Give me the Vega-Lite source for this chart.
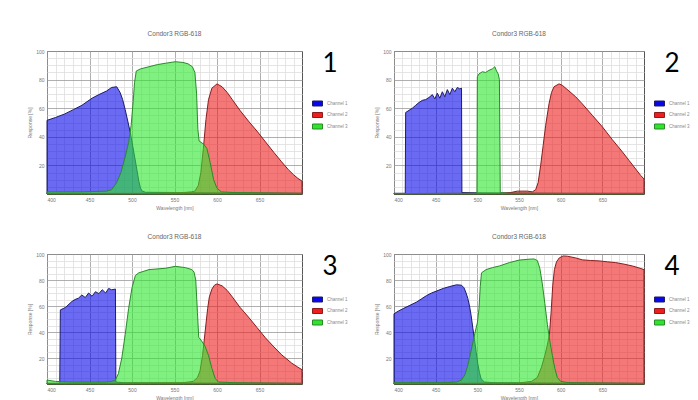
{
"$schema": "https://vega.github.io/schema/vega-lite/v6.json",
"background": "white",
"padding": {"left": 27, "top": 30, "right": 2, "bottom": 2},
"datasets": {
"p1": [
{"nm":400,"r":51.5,"ch":"Channel 1"},{"nm":410,"r":53.5,"ch":"Channel 1"},{"nm":421,"r":56,"ch":"Channel 1"},{"nm":431,"r":59,"ch":"Channel 1"},{"nm":441,"r":62,"ch":"Channel 1"},{"nm":453,"r":67,"ch":"Channel 1"},{"nm":461,"r":69.5,"ch":"Channel 1"},{"nm":470,"r":72,"ch":"Channel 1"},{"nm":476,"r":74.5,"ch":"Channel 1"},{"nm":482,"r":75,"ch":"Channel 1"},{"nm":486,"r":71,"ch":"Channel 1"},{"nm":489,"r":66,"ch":"Channel 1"},{"nm":492,"r":59,"ch":"Channel 1"},{"nm":495,"r":51,"ch":"Channel 1"},{"nm":498,"r":43,"ch":"Channel 1"},{"nm":501,"r":33,"ch":"Channel 1"},{"nm":504,"r":23,"ch":"Channel 1"},{"nm":506,"r":16,"ch":"Channel 1"},{"nm":508,"r":9,"ch":"Channel 1"},{"nm":510,"r":4,"ch":"Channel 1"},{"nm":512,"r":2,"ch":"Channel 1"},{"nm":516,"r":1.2,"ch":"Channel 1"},{"nm":560,"r":1,"ch":"Channel 1"},{"nm":620,"r":0.8,"ch":"Channel 1"},{"nm":700,"r":0.5,"ch":"Channel 1"},
{"nm":400,"r":0.5,"ch":"Channel 2"},{"nm":520,"r":0.5,"ch":"Channel 2"},{"nm":560,"r":1,"ch":"Channel 2"},{"nm":570,"r":1.5,"ch":"Channel 2"},{"nm":574,"r":2,"ch":"Channel 2"},{"nm":578,"r":6,"ch":"Channel 2"},{"nm":581,"r":15,"ch":"Channel 2"},{"nm":584,"r":32,"ch":"Channel 2"},{"nm":587,"r":52,"ch":"Channel 2"},{"nm":590,"r":66,"ch":"Channel 2"},{"nm":594,"r":74,"ch":"Channel 2"},{"nm":600,"r":77,"ch":"Channel 2"},{"nm":606,"r":75,"ch":"Channel 2"},{"nm":612,"r":71,"ch":"Channel 2"},{"nm":618,"r":66,"ch":"Channel 2"},{"nm":627,"r":58.5,"ch":"Channel 2"},{"nm":637,"r":51,"ch":"Channel 2"},{"nm":647,"r":44,"ch":"Channel 2"},{"nm":657,"r":36.5,"ch":"Channel 2"},{"nm":667,"r":29,"ch":"Channel 2"},{"nm":676,"r":22.5,"ch":"Channel 2"},{"nm":684,"r":17,"ch":"Channel 2"},{"nm":690,"r":13.5,"ch":"Channel 2"},{"nm":695,"r":11,"ch":"Channel 2"},{"nm":700,"r":9,"ch":"Channel 2"},
{"nm":400,"r":1.5,"ch":"Channel 3"},{"nm":440,"r":1.5,"ch":"Channel 3"},{"nm":470,"r":2,"ch":"Channel 3"},{"nm":476,"r":3,"ch":"Channel 3"},{"nm":482,"r":8,"ch":"Channel 3"},{"nm":487,"r":15,"ch":"Channel 3"},{"nm":492,"r":26,"ch":"Channel 3"},{"nm":496,"r":36,"ch":"Channel 3"},{"nm":499,"r":48,"ch":"Channel 3"},{"nm":501,"r":62,"ch":"Channel 3"},{"nm":503,"r":78,"ch":"Channel 3"},{"nm":505,"r":86,"ch":"Channel 3"},{"nm":510,"r":87.5,"ch":"Channel 3"},{"nm":520,"r":89,"ch":"Channel 3"},{"nm":530,"r":90.5,"ch":"Channel 3"},{"nm":540,"r":91.5,"ch":"Channel 3"},{"nm":551,"r":92.5,"ch":"Channel 3"},{"nm":560,"r":92,"ch":"Channel 3"},{"nm":566,"r":91,"ch":"Channel 3"},{"nm":571,"r":89,"ch":"Channel 3"},{"nm":574,"r":85,"ch":"Channel 3"},{"nm":576,"r":70,"ch":"Channel 3"},{"nm":577.5,"r":45,"ch":"Channel 3"},{"nm":579,"r":37,"ch":"Channel 3"},{"nm":584,"r":35,"ch":"Channel 3"},{"nm":588,"r":32,"ch":"Channel 3"},{"nm":592,"r":22,"ch":"Channel 3"},{"nm":596,"r":10,"ch":"Channel 3"},{"nm":600,"r":4,"ch":"Channel 3"},{"nm":605,"r":1.5,"ch":"Channel 3"},{"nm":620,"r":1,"ch":"Channel 3"},{"nm":700,"r":0.5,"ch":"Channel 3"}
],
"p2": [
{"nm":400,"r":0.5,"ch":"Channel 1"},{"nm":413.5,"r":0.5,"ch":"Channel 1"},{"nm":414,"r":57,"ch":"Channel 1"},{"nm":418,"r":58.5,"ch":"Channel 1"},{"nm":422,"r":60,"ch":"Channel 1"},{"nm":426,"r":62,"ch":"Channel 1"},{"nm":430,"r":64,"ch":"Channel 1"},{"nm":434,"r":65.5,"ch":"Channel 1"},{"nm":438,"r":66,"ch":"Channel 1"},{"nm":442,"r":67.5,"ch":"Channel 1"},{"nm":446,"r":69.5,"ch":"Channel 1"},{"nm":449,"r":66.5,"ch":"Channel 1"},{"nm":452,"r":70.5,"ch":"Channel 1"},{"nm":455,"r":67,"ch":"Channel 1"},{"nm":458,"r":71.5,"ch":"Channel 1"},{"nm":461,"r":68,"ch":"Channel 1"},{"nm":464,"r":73,"ch":"Channel 1"},{"nm":467,"r":69.5,"ch":"Channel 1"},{"nm":470,"r":74,"ch":"Channel 1"},{"nm":473,"r":71.5,"ch":"Channel 1"},{"nm":476,"r":74.5,"ch":"Channel 1"},{"nm":479,"r":73.5,"ch":"Channel 1"},{"nm":481,"r":74,"ch":"Channel 1"},{"nm":481.5,"r":1,"ch":"Channel 1"},{"nm":500,"r":0.8,"ch":"Channel 1"},{"nm":600,"r":0.5,"ch":"Channel 1"},{"nm":700,"r":0.5,"ch":"Channel 1"},
{"nm":400,"r":0.3,"ch":"Channel 2"},{"nm":530,"r":0.5,"ch":"Channel 2"},{"nm":540,"r":1,"ch":"Channel 2"},{"nm":548,"r":2,"ch":"Channel 2"},{"nm":560,"r":2,"ch":"Channel 2"},{"nm":566,"r":1.5,"ch":"Channel 2"},{"nm":570,"r":3,"ch":"Channel 2"},{"nm":573,"r":8,"ch":"Channel 2"},{"nm":576,"r":20,"ch":"Channel 2"},{"nm":579,"r":34,"ch":"Channel 2"},{"nm":582,"r":48,"ch":"Channel 2"},{"nm":586,"r":63,"ch":"Channel 2"},{"nm":589,"r":71,"ch":"Channel 2"},{"nm":592,"r":75,"ch":"Channel 2"},{"nm":598,"r":77,"ch":"Channel 2"},{"nm":602,"r":76,"ch":"Channel 2"},{"nm":610,"r":72,"ch":"Channel 2"},{"nm":618,"r":68,"ch":"Channel 2"},{"nm":626,"r":63,"ch":"Channel 2"},{"nm":638,"r":55,"ch":"Channel 2"},{"nm":650,"r":47,"ch":"Channel 2"},{"nm":662,"r":38,"ch":"Channel 2"},{"nm":674,"r":29.5,"ch":"Channel 2"},{"nm":682,"r":23.5,"ch":"Channel 2"},{"nm":690,"r":17.5,"ch":"Channel 2"},{"nm":696,"r":13,"ch":"Channel 2"},{"nm":700,"r":10.5,"ch":"Channel 2"},
{"nm":400,"r":0.3,"ch":"Channel 3"},{"nm":499.5,"r":0.5,"ch":"Channel 3"},{"nm":500,"r":82,"ch":"Channel 3"},{"nm":502,"r":84,"ch":"Channel 3"},{"nm":506,"r":85.5,"ch":"Channel 3"},{"nm":510,"r":85,"ch":"Channel 3"},{"nm":514,"r":86.5,"ch":"Channel 3"},{"nm":518,"r":87.5,"ch":"Channel 3"},{"nm":521,"r":89,"ch":"Channel 3"},{"nm":523,"r":86,"ch":"Channel 3"},{"nm":525,"r":84,"ch":"Channel 3"},{"nm":526.5,"r":80,"ch":"Channel 3"},{"nm":527.5,"r":0.8,"ch":"Channel 3"},{"nm":540,"r":0.5,"ch":"Channel 3"},{"nm":700,"r":0.3,"ch":"Channel 3"}
],
"p3": [
{"nm":400,"r":0.5,"ch":"Channel 1"},{"nm":415,"r":0.5,"ch":"Channel 1"},{"nm":415.7,"r":57,"ch":"Channel 1"},{"nm":419,"r":58,"ch":"Channel 1"},{"nm":422,"r":59,"ch":"Channel 1"},{"nm":426,"r":61.5,"ch":"Channel 1"},{"nm":429.4,"r":63.5,"ch":"Channel 1"},{"nm":433,"r":65,"ch":"Channel 1"},{"nm":437,"r":66,"ch":"Channel 1"},{"nm":441,"r":68.5,"ch":"Channel 1"},{"nm":445,"r":66.5,"ch":"Channel 1"},{"nm":449,"r":70,"ch":"Channel 1"},{"nm":453,"r":67.5,"ch":"Channel 1"},{"nm":457,"r":71,"ch":"Channel 1"},{"nm":461,"r":69.5,"ch":"Channel 1"},{"nm":465,"r":72.5,"ch":"Channel 1"},{"nm":469,"r":70,"ch":"Channel 1"},{"nm":472.5,"r":73.5,"ch":"Channel 1"},{"nm":476,"r":72.5,"ch":"Channel 1"},{"nm":480.5,"r":73,"ch":"Channel 1"},{"nm":481,"r":1.5,"ch":"Channel 1"},{"nm":490,"r":1,"ch":"Channel 1"},{"nm":560,"r":0.8,"ch":"Channel 1"},{"nm":700,"r":0.5,"ch":"Channel 1"},
{"nm":400,"r":0.5,"ch":"Channel 2"},{"nm":560,"r":1,"ch":"Channel 2"},{"nm":572,"r":2,"ch":"Channel 2"},{"nm":577,"r":5,"ch":"Channel 2"},{"nm":580,"r":10,"ch":"Channel 2"},{"nm":583,"r":22,"ch":"Channel 2"},{"nm":586,"r":40,"ch":"Channel 2"},{"nm":589,"r":58,"ch":"Channel 2"},{"nm":591,"r":67,"ch":"Channel 2"},{"nm":594,"r":73,"ch":"Channel 2"},{"nm":597,"r":76,"ch":"Channel 2"},{"nm":600,"r":77,"ch":"Channel 2"},{"nm":606,"r":75.5,"ch":"Channel 2"},{"nm":612,"r":72,"ch":"Channel 2"},{"nm":618,"r":67,"ch":"Channel 2"},{"nm":627,"r":59,"ch":"Channel 2"},{"nm":637,"r":51.5,"ch":"Channel 2"},{"nm":647,"r":43.5,"ch":"Channel 2"},{"nm":657,"r":35.5,"ch":"Channel 2"},{"nm":667,"r":28.5,"ch":"Channel 2"},{"nm":676,"r":22.5,"ch":"Channel 2"},{"nm":688,"r":16,"ch":"Channel 2"},{"nm":695,"r":13,"ch":"Channel 2"},{"nm":700,"r":11,"ch":"Channel 2"},
{"nm":400,"r":3,"ch":"Channel 3"},{"nm":410,"r":2,"ch":"Channel 3"},{"nm":430,"r":1.5,"ch":"Channel 3"},{"nm":470,"r":1.5,"ch":"Channel 3"},{"nm":480,"r":2.5,"ch":"Channel 3"},{"nm":484,"r":8,"ch":"Channel 3"},{"nm":488,"r":20,"ch":"Channel 3"},{"nm":492,"r":38,"ch":"Channel 3"},{"nm":496,"r":58,"ch":"Channel 3"},{"nm":500,"r":74,"ch":"Channel 3"},{"nm":504,"r":83.5,"ch":"Channel 3"},{"nm":508,"r":85.5,"ch":"Channel 3"},{"nm":520,"r":88,"ch":"Channel 3"},{"nm":539,"r":89,"ch":"Channel 3"},{"nm":551,"r":90.5,"ch":"Channel 3"},{"nm":563,"r":89.5,"ch":"Channel 3"},{"nm":570.5,"r":88,"ch":"Channel 3"},{"nm":573,"r":86,"ch":"Channel 3"},{"nm":575,"r":80,"ch":"Channel 3"},{"nm":577,"r":55,"ch":"Channel 3"},{"nm":578.5,"r":36,"ch":"Channel 3"},{"nm":582,"r":33,"ch":"Channel 3"},{"nm":586,"r":29,"ch":"Channel 3"},{"nm":590,"r":22,"ch":"Channel 3"},{"nm":594,"r":12,"ch":"Channel 3"},{"nm":598,"r":4,"ch":"Channel 3"},{"nm":602,"r":1.5,"ch":"Channel 3"},{"nm":620,"r":1,"ch":"Channel 3"},{"nm":700,"r":0.5,"ch":"Channel 3"}
],
"p4": [
{"nm":400,"r":54,"ch":"Channel 1"},{"nm":405,"r":56,"ch":"Channel 1"},{"nm":411,"r":58,"ch":"Channel 1"},{"nm":419,"r":60.5,"ch":"Channel 1"},{"nm":427,"r":63,"ch":"Channel 1"},{"nm":433,"r":65.5,"ch":"Channel 1"},{"nm":439,"r":68,"ch":"Channel 1"},{"nm":445,"r":70,"ch":"Channel 1"},{"nm":451,"r":71.5,"ch":"Channel 1"},{"nm":459,"r":73.5,"ch":"Channel 1"},{"nm":467,"r":75,"ch":"Channel 1"},{"nm":475,"r":76.3,"ch":"Channel 1"},{"nm":481,"r":76,"ch":"Channel 1"},{"nm":484,"r":74,"ch":"Channel 1"},{"nm":486.5,"r":70,"ch":"Channel 1"},{"nm":488.6,"r":65.8,"ch":"Channel 1"},{"nm":490.6,"r":60,"ch":"Channel 1"},{"nm":492.6,"r":52.6,"ch":"Channel 1"},{"nm":494.6,"r":43,"ch":"Channel 1"},{"nm":496.6,"r":34,"ch":"Channel 1"},{"nm":498.5,"r":25,"ch":"Channel 1"},{"nm":500.5,"r":15.8,"ch":"Channel 1"},{"nm":502.5,"r":9,"ch":"Channel 1"},{"nm":504.5,"r":4,"ch":"Channel 1"},{"nm":508.5,"r":1.5,"ch":"Channel 1"},{"nm":520,"r":1,"ch":"Channel 1"},{"nm":600,"r":0.8,"ch":"Channel 1"},{"nm":700,"r":0.5,"ch":"Channel 1"},
{"nm":400,"r":0.5,"ch":"Channel 2"},{"nm":550,"r":0.8,"ch":"Channel 2"},{"nm":565,"r":2,"ch":"Channel 2"},{"nm":572,"r":5,"ch":"Channel 2"},{"nm":577,"r":13,"ch":"Channel 2"},{"nm":581,"r":22,"ch":"Channel 2"},{"nm":584,"r":30,"ch":"Channel 2"},{"nm":586.5,"r":38,"ch":"Channel 2"},{"nm":588.5,"r":55,"ch":"Channel 2"},{"nm":590.5,"r":76,"ch":"Channel 2"},{"nm":592.5,"r":88,"ch":"Channel 2"},{"nm":595,"r":94,"ch":"Channel 2"},{"nm":598.3,"r":97,"ch":"Channel 2"},{"nm":603,"r":98.5,"ch":"Channel 2"},{"nm":608,"r":98.3,"ch":"Channel 2"},{"nm":618,"r":97,"ch":"Channel 2"},{"nm":626,"r":95.5,"ch":"Channel 2"},{"nm":636,"r":95,"ch":"Channel 2"},{"nm":646,"r":94.7,"ch":"Channel 2"},{"nm":656,"r":94,"ch":"Channel 2"},{"nm":666,"r":93.4,"ch":"Channel 2"},{"nm":676,"r":92.2,"ch":"Channel 2"},{"nm":686,"r":90.8,"ch":"Channel 2"},{"nm":693,"r":89.5,"ch":"Channel 2"},{"nm":700,"r":88,"ch":"Channel 2"},
{"nm":400,"r":1,"ch":"Channel 3"},{"nm":460,"r":1,"ch":"Channel 3"},{"nm":475,"r":1.5,"ch":"Channel 3"},{"nm":481,"r":3,"ch":"Channel 3"},{"nm":485,"r":7,"ch":"Channel 3"},{"nm":488,"r":13,"ch":"Channel 3"},{"nm":491,"r":21,"ch":"Channel 3"},{"nm":494,"r":30,"ch":"Channel 3"},{"nm":497,"r":39,"ch":"Channel 3"},{"nm":500,"r":47,"ch":"Channel 3"},{"nm":502,"r":58,"ch":"Channel 3"},{"nm":503.5,"r":75,"ch":"Channel 3"},{"nm":505,"r":85.5,"ch":"Channel 3"},{"nm":510.5,"r":88,"ch":"Channel 3"},{"nm":518,"r":89.5,"ch":"Channel 3"},{"nm":526.5,"r":90.8,"ch":"Channel 3"},{"nm":538.5,"r":93.4,"ch":"Channel 3"},{"nm":550,"r":95.3,"ch":"Channel 3"},{"nm":562,"r":96,"ch":"Channel 3"},{"nm":568,"r":96.2,"ch":"Channel 3"},{"nm":572,"r":95,"ch":"Channel 3"},{"nm":575,"r":89,"ch":"Channel 3"},{"nm":578,"r":77,"ch":"Channel 3"},{"nm":581,"r":62,"ch":"Channel 3"},{"nm":584,"r":46,"ch":"Channel 3"},{"nm":587,"r":33,"ch":"Channel 3"},{"nm":590,"r":22,"ch":"Channel 3"},{"nm":593,"r":12,"ch":"Channel 3"},{"nm":596,"r":5,"ch":"Channel 3"},{"nm":600,"r":2,"ch":"Channel 3"},{"nm":610,"r":1,"ch":"Channel 3"},{"nm":700,"r":0.5,"ch":"Channel 3"}
]
},
"columns": 2,
"spacing": {"row": 22, "column": 25},
"resolve": {"scale": {"fill": "independent", "stroke": "independent"}, "legend": {"fill": "independent", "stroke": "independent"}},
"concat": [
{
"title": {"text": "Condor3 RGB-618"},
"width": 255, "height": 143,
"data": {"name": "p1"},
"layer": [
{"mark": {"type": "point", "opacity": 0},
 "encoding": {
  "x": {"field": "nm", "type": "quantitative", "scale": {"domain": [400, 700], "nice": false}, "axis": {"orient": "top", "values": [410,420,430,440,460,470,480,490,510,520,530,540,560,570,580,590,610,620,630,640,660,670,680,690], "grid": true, "gridColor": "#dedede", "labels": false, "ticks": false, "domain": false, "title": null}},
  "y": {"field": "r", "type": "quantitative", "scale": {"domain": [0, 100], "nice": false}, "axis": {"orient": "right", "values": [5,10,15,25,30,35,45,50,55,65,70,75,85,90,95], "grid": true, "gridColor": "#dedede", "labels": false, "ticks": false, "domain": false, "title": null}}
 }},
{"mark": {"type": "area", "fillOpacity": 0.6, "strokeWidth": 1, "strokeOpacity": 1},
 "encoding": {
  "x": {"field": "nm", "type": "quantitative", "axis": {"orient": "bottom", "values": [400,450,500,550,600,650], "grid": true, "title": "Wavelength [nm]"}},
  "y": {"field": "r", "type": "quantitative", "stack": null, "axis": {"orient": "left", "values": [20,40,60,80,100], "grid": true, "title": "Response [%]"}},
  "fill": {"field": "ch", "type": "nominal", "scale": {"domain": ["Channel 1","Channel 2","Channel 3"], "range": ["#0707e9","#ee1e1e","#2be62b"]}, "legend": {"title": "1", "titlePadding": 21}},
  "stroke": {"field": "ch", "type": "nominal", "scale": {"domain": ["Channel 1","Channel 2","Channel 3"], "range": ["#1d1d6b","#8a1c1c","#2a8a2a"]}, "legend": {"title": "1", "titlePadding": 21}}
 }}
],
"resolve": {"axis": {"x": "independent", "y": "independent"}}
},
{
"title": {"text": "Condor3 RGB-618"},
"width": 250, "height": 143,
"data": {"name": "p2"},
"layer": [
{"mark": {"type": "point", "opacity": 0},
 "encoding": {
  "x": {"field": "nm", "type": "quantitative", "scale": {"domain": [400, 700], "nice": false}, "axis": {"orient": "top", "values": [410,420,430,440,460,470,480,490,510,520,530,540,560,570,580,590,610,620,630,640,660,670,680,690], "grid": true, "gridColor": "#dedede", "labels": false, "ticks": false, "domain": false, "title": null}},
  "y": {"field": "r", "type": "quantitative", "scale": {"domain": [0, 100], "nice": false}, "axis": {"orient": "right", "values": [5,10,15,25,30,35,45,50,55,65,70,75,85,90,95], "grid": true, "gridColor": "#dedede", "labels": false, "ticks": false, "domain": false, "title": null}}
 }},
{"mark": {"type": "area", "fillOpacity": 0.6, "strokeWidth": 1, "strokeOpacity": 1},
 "encoding": {
  "x": {"field": "nm", "type": "quantitative", "axis": {"orient": "bottom", "values": [400,450,500,550,600,650], "grid": true, "title": "Wavelength [nm]"}},
  "y": {"field": "r", "type": "quantitative", "stack": null, "axis": {"orient": "left", "values": [20,40,60,80,100], "grid": true, "title": "Response [%]"}},
  "fill": {"field": "ch", "type": "nominal", "scale": {"domain": ["Channel 1","Channel 2","Channel 3"], "range": ["#0707e9","#ee1e1e","#2be62b"]}, "legend": {"title": "2", "titlePadding": 21}},
  "stroke": {"field": "ch", "type": "nominal", "scale": {"domain": ["Channel 1","Channel 2","Channel 3"], "range": ["#1d1d6b","#8a1c1c","#2a8a2a"]}, "legend": {"title": "2", "titlePadding": 21}}
 }}
],
"resolve": {"axis": {"x": "independent", "y": "independent"}}
},
{
"title": {"text": "Condor3 RGB-618"},
"width": 255, "height": 130,
"data": {"name": "p3"},
"layer": [
{"mark": {"type": "point", "opacity": 0},
 "encoding": {
  "x": {"field": "nm", "type": "quantitative", "scale": {"domain": [400, 700], "nice": false}, "axis": {"orient": "top", "values": [410,420,430,440,460,470,480,490,510,520,530,540,560,570,580,590,610,620,630,640,660,670,680,690], "grid": true, "gridColor": "#dedede", "labels": false, "ticks": false, "domain": false, "title": null}},
  "y": {"field": "r", "type": "quantitative", "scale": {"domain": [0, 100], "nice": false}, "axis": {"orient": "right", "values": [5,10,15,25,30,35,45,50,55,65,70,75,85,90,95], "grid": true, "gridColor": "#dedede", "labels": false, "ticks": false, "domain": false, "title": null}}
 }},
{"mark": {"type": "area", "fillOpacity": 0.6, "strokeWidth": 1, "strokeOpacity": 1},
 "encoding": {
  "x": {"field": "nm", "type": "quantitative", "axis": {"orient": "bottom", "values": [400,450,500,550,600,650], "grid": true, "title": "Wavelength [nm]"}},
  "y": {"field": "r", "type": "quantitative", "stack": null, "axis": {"orient": "left", "values": [20,40,60,80,100], "grid": true, "title": "Response [%]"}},
  "fill": {"field": "ch", "type": "nominal", "scale": {"domain": ["Channel 1","Channel 2","Channel 3"], "range": ["#0707e9","#ee1e1e","#2be62b"]}, "legend": {"title": "3", "titlePadding": 14}},
  "stroke": {"field": "ch", "type": "nominal", "scale": {"domain": ["Channel 1","Channel 2","Channel 3"], "range": ["#1d1d6b","#8a1c1c","#2a8a2a"]}, "legend": {"title": "3", "titlePadding": 14}}
 }}
],
"resolve": {"axis": {"x": "independent", "y": "independent"}}
},
{
"title": {"text": "Condor3 RGB-618"},
"width": 250, "height": 130,
"data": {"name": "p4"},
"layer": [
{"mark": {"type": "point", "opacity": 0},
 "encoding": {
  "x": {"field": "nm", "type": "quantitative", "scale": {"domain": [400, 700], "nice": false}, "axis": {"orient": "top", "values": [410,420,430,440,460,470,480,490,510,520,530,540,560,570,580,590,610,620,630,640,660,670,680,690], "grid": true, "gridColor": "#dedede", "labels": false, "ticks": false, "domain": false, "title": null}},
  "y": {"field": "r", "type": "quantitative", "scale": {"domain": [0, 100], "nice": false}, "axis": {"orient": "right", "values": [5,10,15,25,30,35,45,50,55,65,70,75,85,90,95], "grid": true, "gridColor": "#dedede", "labels": false, "ticks": false, "domain": false, "title": null}}
 }},
{"mark": {"type": "area", "fillOpacity": 0.6, "strokeWidth": 1, "strokeOpacity": 1},
 "encoding": {
  "x": {"field": "nm", "type": "quantitative", "axis": {"orient": "bottom", "values": [400,450,500,550,600,650], "grid": true, "title": "Wavelength [nm]"}},
  "y": {"field": "r", "type": "quantitative", "stack": null, "axis": {"orient": "left", "values": [20,40,60,80,100], "grid": true, "title": "Response [%]"}},
  "fill": {"field": "ch", "type": "nominal", "scale": {"domain": ["Channel 1","Channel 2","Channel 3"], "range": ["#0707e9","#ee1e1e","#2be62b"]}, "legend": {"title": "4", "titlePadding": 14}},
  "stroke": {"field": "ch", "type": "nominal", "scale": {"domain": ["Channel 1","Channel 2","Channel 3"], "range": ["#1d1d6b","#8a1c1c","#2a8a2a"]}, "legend": {"title": "4", "titlePadding": 14}}
 }}
],
"resolve": {"axis": {"x": "independent", "y": "independent"}}
}
],
"config": {
 "font": "Liberation Sans",
 "view": {"stroke": "#555555", "strokeWidth": 1},
 "axis": {"labelFontSize": 5, "labelColor": "#777777", "titleFontSize": 5, "titleColor": "#777777", "titleFontWeight": "normal", "ticks": false, "domain": false, "labelPadding": 3, "titlePadding": 3, "gridColor": "#9a9a9a", "gridWidth": 0.8},
 "title": {"fontSize": 6.5, "color": "#666666", "fontWeight": "normal", "frame": "group", "anchor": "middle", "offset": 12},
 "legend": {"orient": "right", "offset": 8, "titleFontSize": 26, "titleFont": "Lato", "titleFontWeight": "normal", "titleColor": "#000000", "titleAnchor": "middle", "labelFontSize": 4.5, "labelColor": "#888888", "labelOffset": 4, "symbolType": "M-1,-0.5L1,-0.5L1,0.5L-1,0.5Z", "symbolSize": 100, "symbolStrokeWidth": 1, "rowPadding": 1.5, "padding": 0}
}
}
